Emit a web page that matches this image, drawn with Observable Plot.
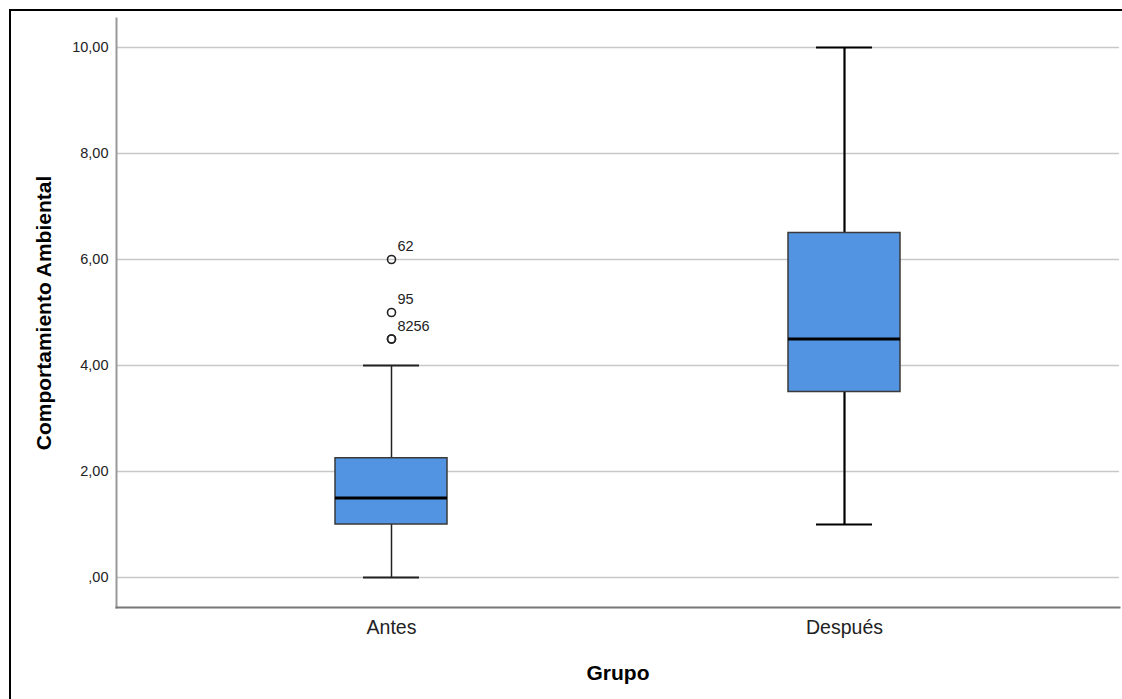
<!DOCTYPE html>
<html>
<head>
<meta charset="utf-8">
<script src="https://cdn.jsdelivr.net/npm/d3@7"></script>
<script src="https://cdn.jsdelivr.net/npm/@observablehq/plot@0.6"></script>
<style>
  html, body { margin: 0; padding: 0; background: #fff; overflow: hidden; }
  #wrap { position: relative; width: 1122px; height: 699px; overflow: hidden; }
  #wrap svg { display: block; }
  #border { position: absolute; left: 9px; top: 9px; width: 1300px; height: 900px;
            border-top: 2px solid #000; border-left: 2px solid #000; pointer-events: none; }
  svg { font-family: "Liberation Sans", Arial, sans-serif; }
</style>
</head>
<body>
<div id="wrap"><div id="border"></div></div>
<script>
// Data
const groups = ["Antes", "Después"];
const q1 = [1.0, 3.5];
const median = [1.5, 4.5];
const q3 = [2.25, 6.5];
const whiskerLow = [0.0, 1.0];
const whiskerHigh = [4.0, 10.0];
const outlierGroup = ["Antes", "Antes", "Antes", "Antes"];
const outlierValue = [6.0, 5.0, 4.5, 4.5];
const outlierId = ["62", "95", "82", "56"];
const yTicks = [0, 2, 4, 6, 8, 10];

const boxes = groups.map((g, i) => ({
  group: g, q1: q1[i], median: median[i], q3: q3[i], lo: whiskerLow[i], hi: whiskerHigh[i]
}));
const outliers = outlierValue.map((v, i) => {
  const prior = outlierValue.slice(0, i).filter((w, j) => w === v && outlierGroup[j] === outlierGroup[i]).length;
  return { group: outlierGroup[i], value: v, id: outlierId[i], k: prior };
});

const fmt = d => {
  const s = d.toFixed(2).replace(".", ",");
  return d === 0 ? s.replace(/^0/, "") : s;
};

const bandwidth = 112;
const wStroke = d => d.group === "Antes" ? 1.5 : 2.2;
const wColor = d => d.group === "Antes" ? "#222" : "#000";

const chart = Plot.plot({
  width: 1122,
  height: 699,
  marginLeft: 116,
  marginRight: 3,
  marginTop: 18,
  marginBottom: 92,
  style: { fontFamily: "Liberation Sans, Arial, sans-serif", background: "transparent" },
  x: { type: "band", domain: groups, paddingInner: 0.7533, paddingOuter: 0.4813, label: null },
  y: { domain: [-0.566, 10.547], label: null },
  marks: [
    Plot.gridY(yTicks, { stroke: "#c8c8c8", strokeOpacity: 1, strokeWidth: 1.5 }),
    Plot.axisY(yTicks, { tickSize: 0, tickPadding: 8, tickFormat: fmt, fontSize: 14.5, fill: "#222", label: null }),
    Plot.axisX({ tickSize: 0, tickPadding: 13, fontSize: 19.5, fill: "#222", label: null }),
    Plot.frame({ anchor: "left", stroke: "#999", strokeWidth: 2 }),
    Plot.frame({ anchor: "bottom", stroke: "#777", strokeWidth: 2 }),
    // whiskers
    Plot.ruleX(boxes, { x: "group", y1: "lo", y2: "q1", stroke: wColor, strokeWidth: wStroke }),
    Plot.ruleX(boxes, { x: "group", y1: "q3", y2: "hi", stroke: wColor, strokeWidth: wStroke }),
    Plot.tickY(boxes, { x: "group", y: "lo", stroke: wColor, strokeWidth: 2.2, insetLeft: bandwidth / 4, insetRight: bandwidth / 4 }),
    Plot.tickY(boxes, { x: "group", y: "hi", stroke: wColor, strokeWidth: 2.2, insetLeft: bandwidth / 4, insetRight: bandwidth / 4 }),
    // boxes
    Plot.barY(boxes, { x: "group", y1: "q1", y2: "q3", fill: "#5394e2", stroke: "#3a3a3a", strokeWidth: 1.5 }),
    Plot.tickY(boxes, { x: "group", y: "median", stroke: "#000", strokeWidth: 3 }),
    // outliers
    Plot.dot(outliers, { x: "group", y: "value", r: 4, stroke: "#222", strokeWidth: 1.6, fill: "none" }),
    Plot.text(outliers.filter(d => d.k === 0), { x: "group", y: "value", text: "id", textAnchor: "start", lineAnchor: "bottom",
      dx: 6, dy: -8, fontSize: 14.5, fill: "#222" }),
    Plot.text(outliers.filter(d => d.k === 1), { x: "group", y: "value", text: "id", textAnchor: "start", lineAnchor: "bottom",
      dx: 22, dy: -8, fontSize: 14.5, fill: "#222" }),
    // axis titles
    Plot.text(["Comportamiento Ambiental"], { frameAnchor: "left", rotate: -90, dx: -72, textAnchor: "middle",
      lineAnchor: "middle", fontSize: 21, fontWeight: "bold", fill: "#000" }),
    Plot.text(["Grupo"], { frameAnchor: "bottom", dy: 58, textAnchor: "middle", lineAnchor: "top",
      fontSize: 21, fontWeight: "bold", fill: "#000" })
  ]
});

document.getElementById("wrap").prepend(chart);
</script>
</body>
</html>
